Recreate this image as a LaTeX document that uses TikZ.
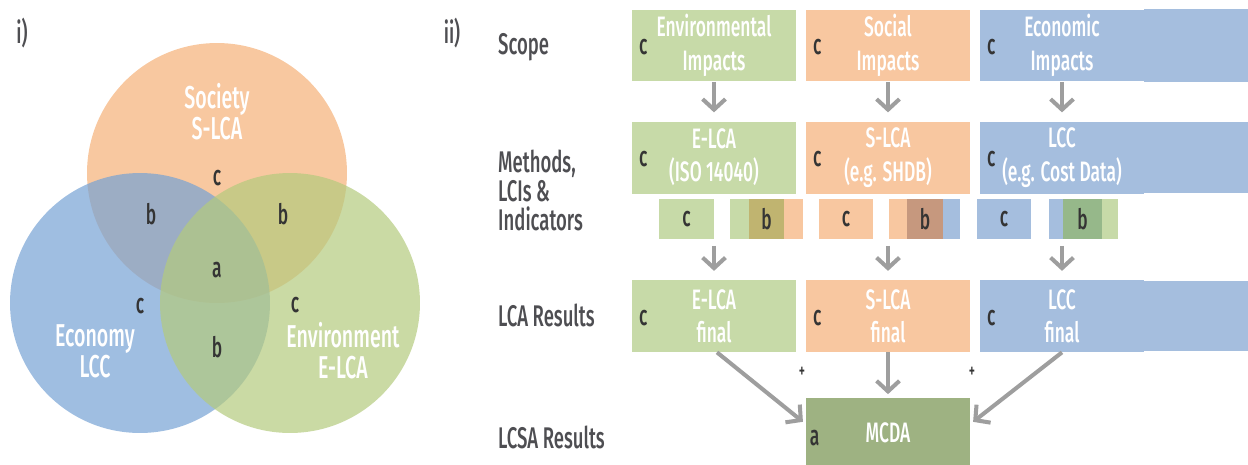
\documentclass[tikz,border=0pt]{standalone}
\usepackage{fontspec}
\setmainfont{Fira Sans}[FakeStretch=0.62, UprightFont=* Medium, BoldFont=* SemiBold]
\usetikzlibrary{arrows.meta, positioning}

\definecolor{envgreen}{RGB}{199,218,168}
\definecolor{socorange}{RGB}{248,199,160}
\definecolor{ecoblue}{RGB}{165,190,222}
\definecolor{mcdagreen}{RGB}{158,178,130}
\definecolor{olivemix}{RGB}{192,180,112}
\definecolor{brownmix}{RGB}{198,152,126}
\definecolor{greenmix}{RGB}{150,184,138}
\definecolor{vennorange}{RGB}{248,200,160}
\definecolor{vennblue}{RGB}{118,162,212}
\definecolor{venngreen}{RGB}{180,202,125}
\definecolor{arrgray}{RGB}{158,158,158}
\definecolor{lettergray}{RGB}{52,52,52}
\definecolor{labelgray}{RGB}{78,78,82}

\tikzset{
  bigbox/.style={rectangle, fill=#1, text=white, align=center, inner sep=0pt,
    minimum width=3.28cm, minimum height=1.44cm,
    font=\fontsize{16}{19}\selectfont},
  smallbox/.style={rectangle, fill=#1, inner sep=0pt, minimum height=0.8cm},
  letter/.style={text=lettergray, inner sep=1pt, font=\fontsize{16}{17}\selectfont},
  rowlabel/.style={anchor=west, text=labelgray, align=left,
    font=\fontsize{17}{16.5}\selectfont},
  vennlabel/.style={text=white, align=center, inner sep=1pt,
    font=\fontsize{18}{17.6}\selectfont},
  arr/.style={draw=arrgray, line width=2.3pt,
    -{Straight Barb[length=6pt, width=13pt]}, shorten >=5pt}
}

\begin{document}
\begin{tikzpicture}[x=0.02cm, y=-0.02cm]
\useasboundingbox (0,0) rectangle (1248,464);

% --- i) Venn diagram
\node[text=labelgray, font=\fontsize{17}{18}\selectfont] (ione) at (22,33) {i)};
\fill[vennorange] (217,173) circle[radius=2.6cm];
\fill[vennblue, fill opacity=0.7] (140,303) circle[radius=2.6cm];
\fill[venngreen, fill opacity=0.7] (290,303) circle[radius=2.6cm];
\node[vennlabel] (society) at (217,112) {Society\\S-LCA};
\node[vennlabel] (economy) at (95,351) {Economy\\LCC};
\node[vennlabel] (environment) at (343,351) {Environment\\E-LCA};
\node[letter] (vc1) at (217,178) {c};
\node[letter] (vc2) at (140,306) {c};
\node[letter] (vc3) at (295,305) {c};
\node[letter] (vb1) at (151,214) {b};
\node[letter] (vb2) at (283,214) {b};
\node[letter] (vb3) at (217,347) {b};
\node[letter] (va) at (217,270) {a};

% --- ii) row labels
\node[text=labelgray, font=\fontsize{17}{18}\selectfont] (itwo) at (452,33) {ii)};
\node[rowlabel] (scope) at (492,47) {Scope};
\node[rowlabel] (methods) at (492,190) {Methods,\\LCIs \&\\Indicators};
\node[rowlabel] (lcares) at (492,315) {LCA Results};
\node[rowlabel] (lcsares) at (492,437) {LCSA Results};

% --- boxes
\fill[ecoblue] (1144,9) rectangle (1248,82);
\fill[ecoblue] (1144,122) rectangle (1248,193);
\fill[ecoblue] (1144,281) rectangle (1248,351);

\node[bigbox=envgreen] (env1) at (714,45.5) {Environmental\\Impacts};
\node[bigbox=socorange] (soc1) at (888,45.5) {Social\\Impacts};
\node[bigbox=ecoblue] (eco1) at (1062,45.5) {Economic\\Impacts};

\node[bigbox=envgreen] (env2) at (714,157.5) {E-LCA\\(ISO 14040)};
\node[bigbox=socorange] (soc2) at (888,157.5) {S-LCA\\(e.g. SHDB)};
\node[bigbox=ecoblue] (eco2) at (1062,157.5) {LCC\\(e.g. Cost Data)};

\node[bigbox=envgreen] (env3) at (714,316) {E-LCA\\final};
\node[bigbox=socorange] (soc3) at (888,316) {S-LCA\\final};
\node[bigbox=ecoblue] (eco3) at (1062,316) {LCC\\final};

\node[bigbox=mcdagreen, minimum height=1.4cm] (mcda) at (888,433) {MCDA};

% c / a letters inside the boxes
\foreach \b in {env1,soc1,eco1,env2,soc2,eco2,env3,soc3,eco3}
  \node[letter, anchor=center] at ([xshift=0.23cm, yshift=-0.04cm]\b.west) {c};
\node[letter, anchor=center] (mcdaa) at ([xshift=0.18cm, yshift=-0.1cm]mcda.west) {a};

% --- small indicator boxes
\node[smallbox=envgreen, minimum width=1.1cm] (envc) at (686.5,219) {};
\node[letter] at (envc) {c};
\node[smallbox=envgreen, minimum width=0.38cm] (envbl) at (739.5,219) {};
\node[smallbox=olivemix, minimum width=0.7cm] (envb) at (766.5,219) {};
\node[smallbox=socorange, minimum width=0.38cm] (envbr) at (793.5,219) {};
\node[letter] at (envb) {b};

\node[smallbox=socorange, minimum width=1.08cm] (socc) at (846,219) {};
\node[letter] at (socc) {c};
\node[smallbox=socorange, minimum width=0.36cm] (socbl) at (898,219) {};
\node[smallbox=brownmix, minimum width=0.72cm] (socb) at (925,219) {};
\node[smallbox=ecoblue, minimum width=0.34cm] (socbr) at (951.5,219) {};
\node[letter] at (socb) {b};

\node[smallbox=ecoblue, minimum width=1.08cm] (ecoc) at (1004,219) {};
\node[letter] at (ecoc) {c};
\node[smallbox=ecoblue, minimum width=0.28cm] (ecobl) at (1056,219) {};
\node[smallbox=greenmix, minimum width=0.78cm] (ecob) at (1082.5,219) {};
\node[smallbox=envgreen, minimum width=0.32cm] (ecobr) at (1110,219) {};
\node[letter] at (ecob) {b};

% --- arrows
\draw[arr] (env1) -- (env2);
\draw[arr] (soc1) -- (soc2);
\draw[arr] (eco1) -- (eco2);
\draw[arr, shorten <=1.04cm] (env2) -- (env3);
\draw[arr, shorten <=1.04cm] (soc2) -- (soc3);
\draw[arr, shorten <=1.04cm] (eco2) -- (eco3);
\draw[arr, shorten >=2pt] ([xshift=0.06cm]env3.south) -- ([yshift=0.18cm]mcda.west);
\draw[arr, shorten >=2pt] (soc3) -- (mcda);
\draw[arr, shorten >=2pt] (eco3.south) -- ([yshift=0.18cm]mcda.east);
\node[text=lettergray, font=\fontsize{11}{12}\selectfont] (plusl) at (802,372) {+};
\node[text=lettergray, font=\fontsize{11}{12}\selectfont] (plusr) at (972,372) {+};
\end{tikzpicture}
\end{document}
